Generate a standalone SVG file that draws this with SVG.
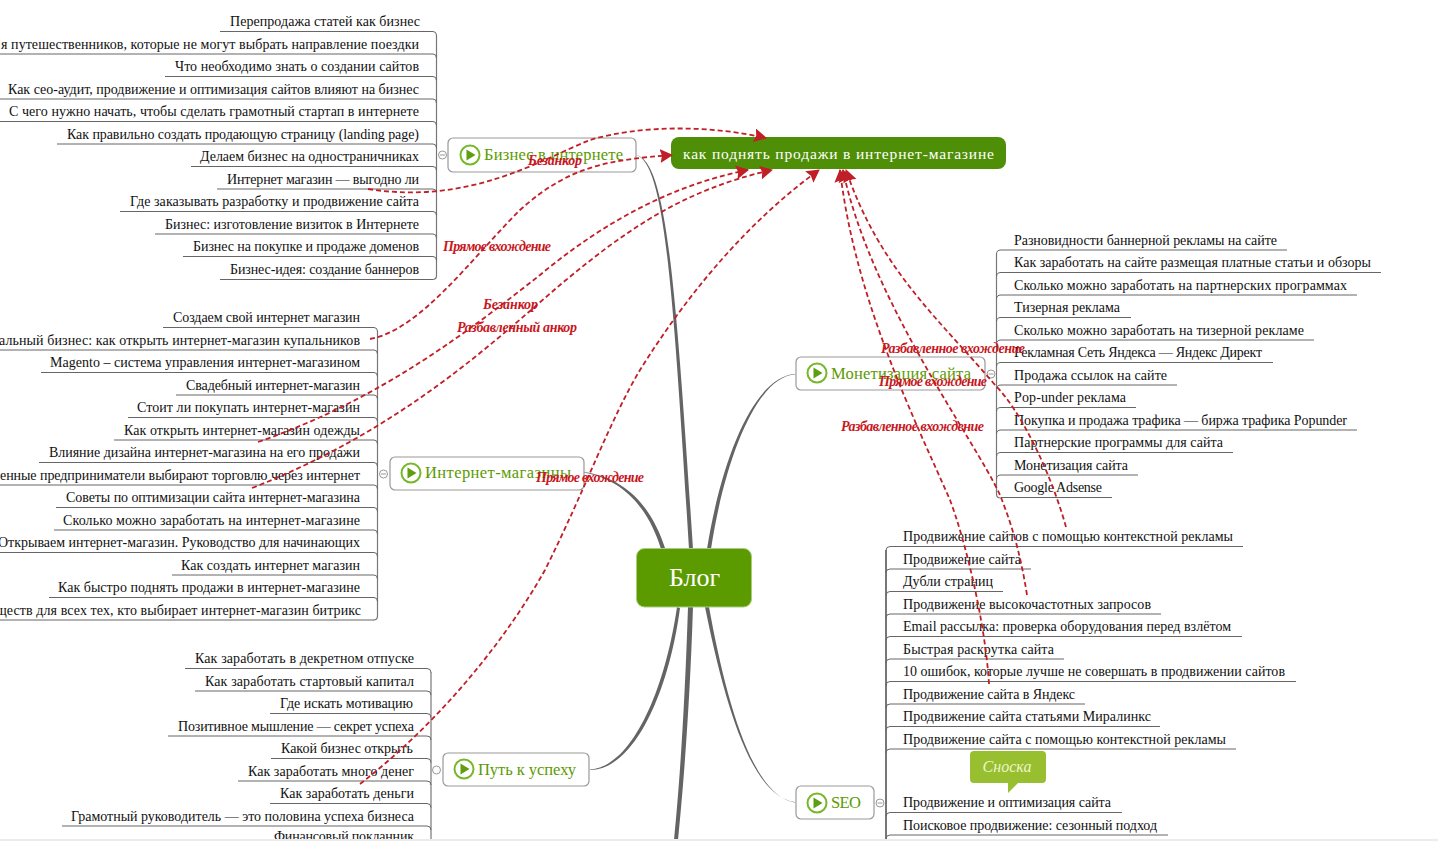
<svg xmlns="http://www.w3.org/2000/svg" width="1438" height="841" viewBox="0 0 1438 841">
<style>
text{font-family:"Liberation Serif","Noto Sans CJK SC",serif}
.t{font-size:14px;fill:#111}
.u{fill:none;stroke:#666;stroke-width:1}
.tr{fill:none;stroke:#777;stroke-width:1.2}
.b{fill:#646464;stroke:none}
.n{fill:#fff;stroke:#999;stroke-width:1.2}
.ic{fill:#fff;stroke:#76b82a;stroke-width:2}
.tri{fill:#5f9e10}
.nt{font-size:16.5px;fill:#5b9a00}
.cc{fill:#fff;stroke:#999;stroke-width:1}
.cm{stroke:#999;stroke-width:1}
.r{fill:none;stroke:#c01f27;stroke-width:1.8;stroke-dasharray:5 3;marker-end:url(#ah)}
.l{font-size:14px;font-style:italic;font-weight:bold;fill:#c8171e}
</style>
<defs>
<marker id="ah" markerUnits="userSpaceOnUse" markerWidth="16" markerHeight="16" refX="12" refY="7" orient="auto"><path d="M0 0L13 7L0 14L2 7Z" fill="#c01f27"/></marker>
</defs>
<rect width="1438" height="841" fill="#fff"/>
<g id="connectors">
<path class="b" d="M636 155C665 163 673 290 689 549L693 549C676 290 667 160 636 155Z"/>
<path class="b" d="M584 472.500C625 480 649 510 661 549L665 548C652 508 627 478 584 472Z"/>
<path class="b" d="M590 769.500C632 767 665 690 677 607L680 608C669 692 634 770 590 770Z"/>
<path class="b" d="M688 607C685 700 680 780 674 840L678 840C684 780 690 700 693 607Z"/>
<path class="b" d="M795 802C750 796 724 700 705 607L709 607C726 700 752 796 795 802.500Z"/>
<path class="b" d="M795 374C757 376 723 450 707 549L711 549C726 452 759 376 795 374.500Z"/>
<path class="tr" d="M436.500 35V275.500Q436.500 279.500 432.500 279.500"/>
<path class="tr" d="M377.500 331V616Q377.500 620 373.500 620"/>
<path class="tr" d="M431 672V839"/>
<path class="tr" d="M996.500 254V494Q996.500 498 1000.500 498"/>
<path class="tr" style="stroke-width:2" d="M886 550V839"/>
</g>
<g id="leaves-business">
<g id="b1"><path class="u" d="M220 31.500H433q3.500 0 3.500 4"/><text class="t" x="230" y="26" textLength="190">Перепродажа статей как бизнес</text></g>
<g id="b2"><path class="u" d="M0 54H433q3.500 0 3.500 4"/><text class="t" x="1" y="48.500" textLength="418">я путешественников, которые не могут выбрать направление поездки</text></g>
<g id="b3"><path class="u" d="M165 76.500H433q3.500 0 3.500 4"/><text class="t" x="175" y="71" textLength="244">Что необходимо знать о создании сайтов</text></g>
<g id="b4"><path class="u" d="M0 99H433q3.500 0 3.500 4"/><text class="t" x="8" y="93.500" textLength="411">Как сео-аудит, продвижение и оптимизация сайтов влияют на бизнес</text></g>
<g id="b5"><path class="u" d="M0 121.500H433q3.500 0 3.500 4"/><text class="t" x="9" y="116" textLength="410">С чего нужно начать, чтобы сделать грамотный стартап в интернете</text></g>
<g id="b6"><path class="u" d="M57 144H433q3.500 0 3.500 4"/><text class="t" x="67" y="138.500" textLength="352">Как правильно создать продающую страницу (landing page)</text></g>
<g id="b7"><path class="u" d="M191 166.500H433q3.500 0 3.500 4"/><text class="t" x="200" y="161" textLength="219">Делаем бизнес на одностраничниках</text></g>
<g id="b8"><path class="u" d="M217 189H433q3.500 0 3.500 4"/><text class="t" x="227" y="183.500" textLength="192">Интернет магазин — выгодно ли</text></g>
<g id="b9"><path class="u" d="M120 211.500H433q3.500 0 3.500 4"/><text class="t" x="130" y="206" textLength="289">Где заказывать разработку и продвижение сайта</text></g>
<g id="b10"><path class="u" d="M155 234H433q3.500 0 3.500 4"/><text class="t" x="165" y="228.500" textLength="254">Бизнес: изготовление визиток в Интернете</text></g>
<g id="b11"><path class="u" d="M183 256.500H433q3.500 0 3.500 4"/><text class="t" x="193" y="251" textLength="226">Бизнес на покупке и продаже доменов</text></g>
<g id="b12"><path class="u" d="M220 279.500H433"/><text class="t" x="230" y="273.500" textLength="189">Бизнес-идея: создание баннеров</text></g>
</g>
<g id="leaves-shops">
<g id="s1"><path class="u" d="M163 327.500H374q3.500 0 3.500 4"/><text class="t" x="173" y="322" textLength="187">Создаем свой интернет магазин</text></g>
<g id="s2"><path class="u" d="M0 350H374q3.500 0 3.500 4"/><text class="t" x="-1" y="344.500" textLength="361">альный бизнес: как открыть интернет-магазин купальников</text></g>
<g id="s3"><path class="u" d="M41 372.500H374q3.500 0 3.500 4"/><text class="t" x="50" y="367" textLength="310">Magento – система управления интернет-магазином</text></g>
<g id="s4"><path class="u" d="M176 395H374q3.500 0 3.500 4"/><text class="t" x="186" y="389.500" textLength="174">Свадебный интернет-магазин</text></g>
<g id="s5"><path class="u" d="M128 417.500H374q3.500 0 3.500 4"/><text class="t" x="137" y="412" textLength="223">Стоит ли покупать интернет-магазин</text></g>
<g id="s6"><path class="u" d="M114 440H374q3.500 0 3.500 4"/><text class="t" x="124" y="434.500" textLength="236">Как открыть интернет-магазин одежды</text></g>
<g id="s7"><path class="u" d="M39 462.500H374q3.500 0 3.500 4"/><text class="t" x="49" y="457" textLength="311">Влияние дизайна интернет-магазина на его продажи</text></g>
<g id="s8"><path class="u" d="M0 485H374q3.500 0 3.500 4"/><text class="t" x="0" y="479.500" textLength="360">енные предприниматели выбирают торговлю через интернет</text></g>
<g id="s9"><path class="u" d="M56 507.500H374q3.500 0 3.500 4"/><text class="t" x="66" y="502" textLength="294">Советы по оптимизации сайта интернет-магазина</text></g>
<g id="s10"><path class="u" d="M54 530H374q3.500 0 3.500 4"/><text class="t" x="63" y="524.500" textLength="297">Сколько можно заработать на интернет-магазине</text></g>
<g id="s11"><path class="u" d="M0 552.500H374q3.500 0 3.500 4"/><text class="t" x="-2" y="547" textLength="362">Открываем интернет-магазин. Руководство для начинающих</text></g>
<g id="s12"><path class="u" d="M172 575H374q3.500 0 3.500 4"/><text class="t" x="181" y="569.500" textLength="179">Как создать интернет магазин</text></g>
<g id="s13"><path class="u" d="M49 597.500H374q3.500 0 3.500 4"/><text class="t" x="58" y="592" textLength="302">Как быстро поднять продажи в интернет-магазине</text></g>
<g id="s14"><path class="u" d="M0 620H374"/><text class="t" x="-4" y="614.500" textLength="365">ществ для всех тех, кто выбирает интернет-магазин битрикс</text></g>
</g>
<g id="leaves-success">
<g id="p1"><path class="u" d="M185 668.500H427q4 0 4 4"/><text class="t" x="195" y="663" textLength="219">Как заработать в декретном отпуске</text></g>
<g id="p2"><path class="u" d="M195 691H427q4 0 4 4"/><text class="t" x="205" y="685.500" textLength="209">Как заработать стартовый капитал</text></g>
<g id="p3"><path class="u" d="M270 713.500H427q4 0 4 4"/><text class="t" x="280" y="708" textLength="133">Где искать мотивацию</text></g>
<g id="p4"><path class="u" d="M168 736H427q4 0 4 4"/><text class="t" x="178" y="730.500" textLength="236">Позитивное мышление — секрет успеха</text></g>
<g id="p5"><path class="u" d="M271 758.500H427q4 0 4 4"/><text class="t" x="281" y="753" textLength="132">Какой бизнес открыть</text></g>
<g id="p6"><path class="u" d="M238 781H427q4 0 4 4"/><text class="t" x="248" y="775.500" textLength="166">Как заработать много денег</text></g>
<g id="p7"><path class="u" d="M270 803.500H427q4 0 4 4"/><text class="t" x="280" y="798" textLength="134">Как заработать деньги</text></g>
<g id="p8"><path class="u" d="M62 826H427q4 0 4 4"/><text class="t" x="71" y="820.500" textLength="343">Грамотный руководитель — это половина успеха бизнеса</text></g>
<g id="p9"><text class="t" x="274" y="841" textLength="140">Финансовый покланник</text></g>
</g>
<g id="leaves-monet">
<g id="m1"><path class="u" d="M1287 250H1001q-4.500 0 -4.500 4"/><text class="t" x="1014" y="244.500" textLength="263">Разновидности баннерной рекламы на сайте</text></g>
<g id="m2"><path class="u" d="M1381 272.500H1001q-4.500 0 -4.500 4"/><text class="t" x="1014" y="267" textLength="357">Как заработать на сайте размещая платные статьи и обзоры</text></g>
<g id="m3"><path class="u" d="M1357 295H1001q-4.500 0 -4.500 4"/><text class="t" x="1014" y="289.500" textLength="333">Сколько можно заработать на партнерских программах</text></g>
<g id="m4"><path class="u" d="M1131 317.500H1001q-4.500 0 -4.500 4"/><text class="t" x="1014" y="312" textLength="106">Тизерная реклама</text></g>
<g id="m5"><path class="u" d="M1314 340H1001q-4.500 0 -4.500 4"/><text class="t" x="1014" y="334.500" textLength="290">Сколько можно заработать на тизерной рекламе</text></g>
<g id="m6"><path class="u" d="M1273 362.500H1001q-4.500 0 -4.500 4"/><text class="t" x="1014" y="357" textLength="248">Рекламная Сеть Яндекса — Яндекс Директ</text></g>
<g id="m7"><path class="u" d="M1177 385H1001q-4.500 0 -4.500 4"/><text class="t" x="1014" y="379.500" textLength="153">Продажа ссылок на сайте</text></g>
<g id="m8"><path class="u" d="M1136 407.500H1001q-4.500 0 -4.500 4"/><text class="t" x="1014" y="402" textLength="112">Pop-under реклама</text></g>
<g id="m9"><path class="u" d="M1357 430H1001q-4.500 0 -4.500 4"/><text class="t" x="1014" y="424.500" textLength="333">Покупка и продажа трафика — биржа трафика Popunder</text></g>
<g id="m10"><path class="u" d="M1233 452.500H1001q-4.500 0 -4.500 4"/><text class="t" x="1014" y="447" textLength="209">Партнерские программы для сайта</text></g>
<g id="m11"><path class="u" d="M1138 475H1001q-4.500 0 -4.500 4"/><text class="t" x="1014" y="469.500" textLength="114">Монетизация сайта</text></g>
<g id="m12"><path class="u" d="M1112 497.500H1001"/><text class="t" x="1014" y="492" textLength="88">Google Adsense</text></g>
</g>
<g id="leaves-seo">
<g id="e1"><path class="u" d="M1243 546.500H890q-4 0 -4 4"/><text class="t" x="903" y="541" textLength="330">Продвижение сайтов с помощью контекстной рекламы</text></g>
<g id="e2"><path class="u" d="M1031 569H890q-4 0 -4 4"/><text class="t" x="903" y="563.500" textLength="118">Продвижение сайта</text></g>
<g id="e3"><path class="u" d="M1003 591.500H890q-4 0 -4 4"/><text class="t" x="903" y="586" textLength="90">Дубли страниц</text></g>
<g id="e4"><path class="u" d="M1161 614H890q-4 0 -4 4"/><text class="t" x="903" y="608.500" textLength="248">Продвижение высокочастотных запросов</text></g>
<g id="e5"><path class="u" d="M1242 636.500H890q-4 0 -4 4"/><text class="t" x="903" y="631" textLength="328">Email рассылка: проверка оборудования перед взлётом</text></g>
<g id="e6"><path class="u" d="M1064 659H890q-4 0 -4 4"/><text class="t" x="903" y="653.500" textLength="151">Быстрая раскрутка сайта</text></g>
<g id="e7"><path class="u" d="M1296 681.500H890q-4 0 -4 4"/><text class="t" x="903" y="676" textLength="382">10 ошибок, которые лучше не совершать в продвижении сайтов</text></g>
<g id="e8"><path class="u" d="M1085 704H890q-4 0 -4 4"/><text class="t" x="903" y="698.500" textLength="172">Продвижение сайта в Яндекс</text></g>
<g id="e9"><path class="u" d="M1160 726.500H890q-4 0 -4 4"/><text class="t" x="903" y="721" textLength="248">Продвижение сайта статьями Миралинкс</text></g>
<g id="e10"><path class="u" d="M1236 749H890q-4 0 -4 4"/><text class="t" x="903" y="743.500" textLength="323">Продвижение сайта с помощью контекстной рекламы</text></g>
<g id="e11"><path class="u" d="M1122 812.500H890q-4 0 -4 4"/><text class="t" x="903" y="807" textLength="208">Продвижение и оптимизация сайта</text></g>
<g id="e12"><path class="u" d="M1168 835H890q-4 0 -4 4"/><text class="t" x="903" y="829.500" textLength="254">Поисковое продвижение: сезонный подход</text></g>
</g>
<g id="node-business">
<circle class="cc" cx="442.500" cy="155" r="4"/><path class="cm" d="M440 155H445"/>
<rect class="n" x="448" y="138" width="188" height="34" rx="5"/>
<circle class="ic" cx="470" cy="155" r="9.500"/><path class="tri" d="M466.500 149.500L475.500 155L466.500 160.500Z"/>
<text class="nt" x="484" y="160" textLength="139">Бизнес в интернете</text>
</g>
<g id="node-shops">
<circle class="cc" cx="383.500" cy="474" r="4"/><path class="cm" d="M381 474H386"/>
<rect class="n" x="390" y="457" width="194" height="33" rx="5"/>
<circle class="ic" cx="411" cy="473" r="9.500"/><path class="tri" d="M407.500 467.500L416.500 473L407.500 478.500Z"/>
<text class="nt" x="425" y="478" textLength="146">Интернет-магазины</text>
</g>
<g id="node-success">
<circle class="cc" cx="436.500" cy="770" r="4"/>
<rect class="n" x="443" y="753" width="146" height="33" rx="5"/>
<circle class="ic" cx="464" cy="769" r="9.500"/><path class="tri" d="M460.500 763.500L469.500 769L460.500 774.500Z"/>
<text class="nt" x="478" y="775" textLength="98">Путь к успеху</text>
</g>
<g id="node-monet">
<circle class="cc" cx="991" cy="374" r="4"/><path class="cm" d="M988.500 374H993.500"/>
<rect class="n" x="796" y="357" width="189" height="33" rx="5"/>
<circle class="ic" cx="817" cy="373" r="9.500"/><path class="tri" d="M813.500 367.500L822.500 373L813.500 378.500Z"/>
<text class="nt" x="831" y="379" textLength="140">Монетизация сайта</text>
</g>
<g id="node-seo">
<circle class="cc" cx="880" cy="803" r="4"/><path class="cm" d="M877.500 803H882.500"/>
<rect class="n" x="796" y="786" width="78" height="33" rx="5"/>
<circle class="ic" cx="817" cy="803" r="9.500"/><path class="tri" d="M813.500 797.500L822.500 803L813.500 808.500Z"/>
<text class="nt" x="831" y="808" textLength="30">SEO</text>
</g>
<g id="node-root">
<rect x="636.500" y="548.500" width="115" height="58.500" rx="8" fill="#5c9b00" stroke="#a9cc80" stroke-width="1"/>
<text x="694.500" y="586" text-anchor="middle" font-size="26" fill="#fff">Блог</text>
</g>
<g id="node-target">
<rect x="671" y="137" width="335" height="32" rx="8" fill="#4f8f07"/>
<text x="683" y="159" font-size="15.500" fill="#fff" textLength="311">как поднять продажи в интернет-магазине</text>
</g>
<g id="node-callout">
<path d="M974 751H1042q4 0 4 4V779q0 4 -4 4H1018L1008 793V783H974q-4 0 -4 -4V755q0 -4 4 -4Z" fill="#97bf30"/>
<text x="1007" y="772" text-anchor="middle" font-size="16" font-style="italic" fill="#eef4cc">Сноска</text>
</g>
<g id="cross-links">
<path class="r" d="M368 189C470 205 540 160 590 140C640 125 710 125 766 138"/>
<path class="r" d="M370 339C420 330 470 260 520 210C570 165 610 160 672 155"/>
<path class="r" d="M258 442C380 400 470 330 540 275C600 225 670 185 748 170"/>
<path class="r" d="M252 488C400 430 490 345 560 285C620 235 680 190 772 170"/>
<path class="r" d="M360 784C430 730 500 650 545 570C585 490 610 420 640 370C690 290 750 220 819 170"/>
<path class="r" d="M989 684C985 620 965 540 950 500C915 420 855 300 840 170"/>
<path class="r" d="M1027 595C1020 550 1010 520 1000 495C975 440 870 300 843 170"/>
<path class="r" d="M1066 527C1050 470 1020 410 995 385C940 320 880 270 846 170"/>
</g>
<g id="link-labels">
<text class="l" x="528" y="165" textLength="54">Безанкор</text>
<text class="l" x="443" y="251" textLength="108">Прямое вхождение</text>
<text class="l" x="483" y="309" textLength="55">Безанкор</text>
<text class="l" x="457" y="332" textLength="120">Разбавленный анкор</text>
<text class="l" x="536" y="482" textLength="108">Прямое вхождение</text>
<text class="l" x="881" y="353" textLength="144">Разбавленное вхождение</text>
<text class="l" x="879" y="386" textLength="108">Прямое вхождение</text>
<text class="l" x="841" y="431" textLength="143">Разбавленное вхождение</text>
</g>
<rect x="0" y="839" width="1438" height="2" fill="#ececec"/>
</svg>
